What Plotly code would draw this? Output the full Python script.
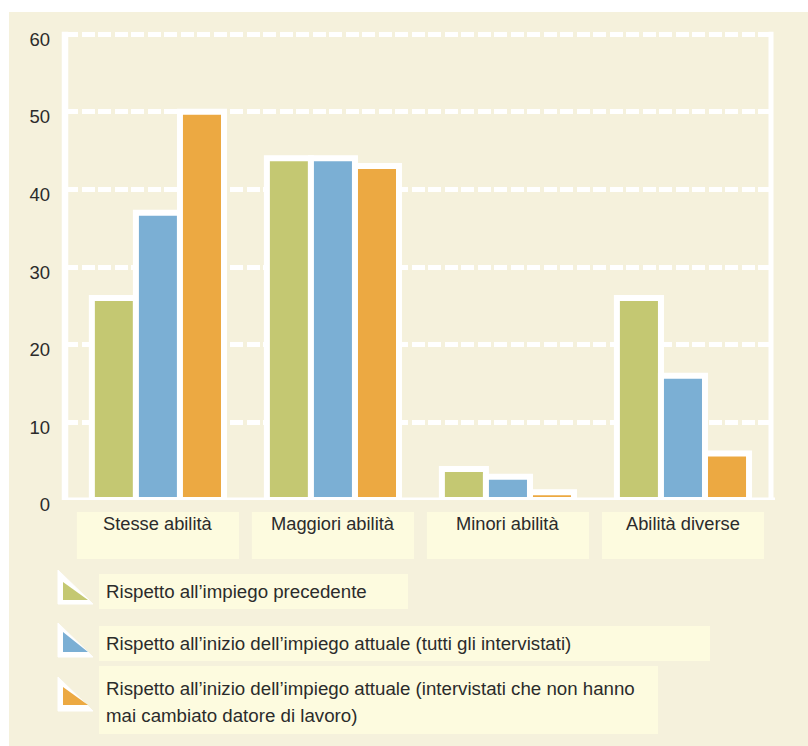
import plotly.graph_objects as go

categories = ["Stesse abilità", "Maggiori abilità", "Minori abilità", "Abilità diverse"]
series_names = [
    "Rispetto all’impiego precedente",
    "Rispetto all’inizio dell’impiego attuale (tutti gli intervistati)",
    "Rispetto all’inizio dell’impiego attuale (intervistati che non hanno mai cambiato datore di lavoro)",
]
legend_lines = [
    ["Rispetto all’impiego precedente"],
    ["Rispetto all’inizio dell’impiego attuale (tutti gli intervistati)"],
    ["Rispetto all’inizio dell’impiego attuale (intervistati che non hanno", "mai cambiato datore di lavoro)"],
]
rispetto_precedente = [26, 44, 4, 26]
rispetto_attuale_tutti = [37, 44, 3, 16]
rispetto_attuale_stesso = [50, 43, 1, 6]
y_ticks = [0, 10, 20, 30, 40, 50, 60]

series_values = [rispetto_precedente, rispetto_attuale_tutti, rispetto_attuale_stesso]
colors = ["#c4c872", "#7bafd4", "#eca942"]

BG = "#f5f1dc"
BOX = "#fdfbdf"
TXT = "#2b2b2b"
FONT = "Liberation Sans"

W, H = 808, 746
L, R, T, B = 65, 771, 31, 500
Y_MAX = 60.4


def px(x):
    return (x - L) / (R - L)


def py(y):
    return (B - y) / (B - T)


fig = go.Figure()
for name, vals, col in zip(series_names, series_values, colors):
    fig.add_trace(go.Bar(
        x=categories, y=vals, name=name,
        marker=dict(color=col, line=dict(color="white", width=6)),
        hoverinfo="x+y",
    ))

shapes = []
shapes.append(dict(type="rect", xref="paper", yref="paper",
                   x0=px(9), x1=px(808), y0=py(12), y1=py(746),
                   fillcolor=BG, line=dict(width=0), layer="below"))
for i in range(len(categories)):
    shapes.append(dict(type="rect", xref="x", yref="paper",
                       x0=i - 0.463, x1=i + 0.463, y0=py(512), y1=py(559),
                       fillcolor=BOX, line=dict(width=0), layer="below"))
shapes.append(dict(type="line", xref="paper", yref="y", x0=px(65), x1=px(65), y0=0, y1=60.3,
                   line=dict(color="white", width=6.5), layer="above"))
shapes.append(dict(type="line", xref="paper", yref="y", x0=px(771), x1=px(771), y0=0, y1=60.3,
                   line=dict(color="white", width=5), layer="above"))
shapes.append(dict(type="line", xref="paper", yref="y", x0=px(62), x1=px(775), y0=0, y1=0,
                   line=dict(color="white", width=5), layer="above"))

legend_boxes = [(99, 408, 574, 609), (99, 710, 626, 661), (99, 658, 666, 734)]
legend_white = [570, 623, 677]
legend_col = [(582, 600), (632, 652), (687, 705)]
legend_text_y = [[591], [643], [688, 715]]
annotations = []
for k in range(3):
    x0, x1, y0, y1 = legend_boxes[k]
    shapes.append(dict(type="rect", xref="paper", yref="paper",
                       x0=px(x0), x1=px(x1), y0=py(y0), y1=py(y1),
                       fillcolor=BOX, line=dict(width=0), layer="below"))
    wt = legend_white[k]
    shapes.append(dict(type="path", xref="paper", yref="paper",
                       path="M {} {} L {} {} L {} {} Z".format(px(58), py(wt), px(58), py(wt + 34), px(93), py(wt + 34)),
                       fillcolor="white", line=dict(color="white", width=1), layer="below"))
    ct, cb = legend_col[k]
    shapes.append(dict(type="path", xref="paper", yref="paper",
                       path="M {} {} L {} {} L {} {} Z".format(px(63), py(ct), px(63), py(cb), px(88), py(cb)),
                       fillcolor=colors[k], line=dict(width=0), layer="below"))
    for line_txt, ty in zip(legend_lines[k], legend_text_y[k]):
        annotations.append(dict(xref="paper", yref="paper", x=px(104), y=py(ty),
                                xanchor="left", yanchor="middle", showarrow=False,
                                text=line_txt, font=dict(family=FONT, size=18.7, color=TXT)))

for c in categories:
    annotations.append(dict(xref="x", yref="paper", x=c, y=py(523), xanchor="center", yanchor="middle",
                            showarrow=False, text=c, font=dict(family=FONT, size=18.3, color=TXT)))

fig.update_layout(
    width=W, height=H, autosize=False,
    margin=dict(l=L, r=W - R, t=T, b=H - B, pad=0),
    paper_bgcolor="white", plot_bgcolor="rgba(0,0,0,0)",
    barmode="group", bargap=0.245, bargroupgap=0,
    showlegend=False,
    shapes=shapes, annotations=annotations,
    font=dict(family=FONT, size=18, color=TXT),
    xaxis=dict(type="category", range=[-0.531, 3.503], showgrid=False, showticklabels=False,
               zeroline=False, showline=False, fixedrange=True),
    yaxis=dict(range=[0, Y_MAX], tickmode="array", tickvals=y_ticks, ticktext=[str(v) for v in y_ticks],
               showgrid=True, gridcolor="white", gridwidth=5, griddash="13px,3.5px",
               zeroline=False, showline=False, ticks="", ticklabelstandoff=14, ticklabelshift=5,
               tickfont=dict(family=FONT, size=18.5, color=TXT), fixedrange=True),
)

fig.write_html("out.html")
